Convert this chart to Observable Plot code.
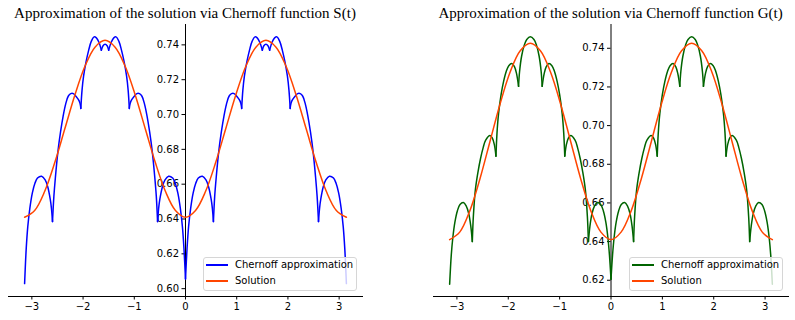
<!DOCTYPE html>
<html>
<head>
<meta charset="utf-8">
<script src="https://cdn.jsdelivr.net/npm/d3@7"></script>
<script src="https://cdn.jsdelivr.net/npm/@observablehq/plot@0.6"></script>
<style>
  body { margin: 0; background: #fff; }
  #wrap { position: relative; width: 795px; height: 320px; overflow: hidden; font-family: "DejaVu Sans", sans-serif; }
  .panel { position: absolute; top: 0; }
  .title { position: absolute; top: 6px; font-family: "Liberation Serif", "Times New Roman", serif; font-size: 15px; line-height: 15px; white-space: nowrap; transform: translateX(-50%); color: #000; z-index: 2; }
  .legend { position: absolute; top: 257px; width: 154px; height: 34px; box-sizing: border-box; border: 1px solid #d6d6d6; border-radius: 3px; background: rgba(255,255,255,0.8); z-index: 3; font-size: 10px; color: #000; }
  .legend .ln { position: absolute; left: 2px; width: 22px; height: 2px; }
  .legend .tx { position: absolute; left: 31px; line-height: 12px; white-space: nowrap; }
</style>
</head>
<body>
<div id="wrap"></div>
<script>
// ---- data ----
const xTicks = [-3, -2, -1, 0, 1, 2, 3];
const yTicksS = [0.60, 0.62, 0.64, 0.66, 0.68, 0.70, 0.72, 0.74];
const yTicksG = [0.62, 0.64, 0.66, 0.68, 0.70, 0.72, 0.74];

const titleS = "Approximation of the solution via Chernoff function S(t)";
const titleG = "Approximation of the solution via Chernoff function G(t)";
const legendLabels = ["Chernoff approximation", "Solution"];

// Chernoff approximation, function S(t)
const sT = [-3.1416, -3.11, -3.08, -3.04, -2.99, -2.94, -2.89, -2.81, -2.74, -2.69, -2.642, -2.617, -2.597,
  -2.57, -2.54, -2.49, -2.44, -2.39, -2.34, -2.29, -2.24, -2.19, -2.14, -2.09, -2.06, -2.044,
  -2.02, -1.99, -1.94, -1.89, -1.84, -1.785, -1.74, -1.69, -1.643,
  -1.61, -1.571, -1.53, -1.50,
  -1.45, -1.40, -1.357, -1.30, -1.25, -1.20, -1.15, -1.12, -1.097,
  -1.08, -1.05, -1.00, -0.95, -0.90, -0.85, -0.80, -0.75, -0.70, -0.65, -0.60, -0.57, -0.545,
  -0.525, -0.50, -0.45, -0.40, -0.33, -0.25, -0.20, -0.15, -0.10, -0.06, -0.03, 0,
  0.03, 0.06, 0.10, 0.15, 0.20, 0.25, 0.33, 0.40, 0.45, 0.50, 0.525, 0.545,
  0.57, 0.60, 0.65, 0.70, 0.75, 0.80, 0.85, 0.90, 0.95, 1.00, 1.05, 1.08, 1.097,
  1.12, 1.15, 1.20, 1.25, 1.30, 1.357, 1.40, 1.45, 1.50,
  1.53, 1.571, 1.61, 1.643,
  1.69, 1.74, 1.785, 1.84, 1.89, 1.94, 1.99, 2.02, 2.044,
  2.06, 2.09, 2.14, 2.19, 2.24, 2.29, 2.34, 2.39, 2.44, 2.49, 2.54, 2.57, 2.597,
  2.617, 2.642, 2.69, 2.74, 2.81, 2.89, 2.94, 2.99, 3.04, 3.08, 3.11, 3.1416];
const sV = [0.6029, 0.6230, 0.6355, 0.6460, 0.6550, 0.6605, 0.6635, 0.6646, 0.6625, 0.6585, 0.6515, 0.6460, 0.6385,
  0.6530, 0.6640, 0.6790, 0.6900, 0.6990, 0.7060, 0.7105, 0.7120, 0.7120, 0.7105, 0.7085, 0.7065, 0.7035,
  0.7140, 0.7220, 0.7305, 0.7370, 0.7420, 0.7446, 0.7440, 0.7415, 0.7369,
  0.7395, 0.7403, 0.7395, 0.7369,
  0.7415, 0.7440, 0.7446, 0.7420, 0.7370, 0.7305, 0.7220, 0.7140, 0.7035,
  0.7065, 0.7085, 0.7105, 0.7120, 0.7120, 0.7105, 0.7060, 0.6990, 0.6900, 0.6790, 0.6640, 0.6530, 0.6385,
  0.6460, 0.6515, 0.6585, 0.6625, 0.6646, 0.6635, 0.6605, 0.6550, 0.6460, 0.6355, 0.6230, 0.6056,
  0.6230, 0.6355, 0.6460, 0.6550, 0.6605, 0.6635, 0.6646, 0.6625, 0.6585, 0.6515, 0.6460, 0.6385,
  0.6530, 0.6640, 0.6790, 0.6900, 0.6990, 0.7060, 0.7105, 0.7120, 0.7120, 0.7105, 0.7085, 0.7065, 0.7035,
  0.7140, 0.7220, 0.7305, 0.7370, 0.7420, 0.7446, 0.7440, 0.7415, 0.7369,
  0.7395, 0.7403, 0.7395, 0.7369,
  0.7415, 0.7440, 0.7446, 0.7420, 0.7370, 0.7305, 0.7220, 0.7140, 0.7035,
  0.7065, 0.7085, 0.7105, 0.7120, 0.7120, 0.7105, 0.7060, 0.6990, 0.6900, 0.6790, 0.6640, 0.6530, 0.6385,
  0.6460, 0.6515, 0.6585, 0.6625, 0.6646, 0.6635, 0.6605, 0.6550, 0.6460, 0.6355, 0.6230, 0.6029];
const sCusps = [-2.597, -2.044, -1.643, -1.50, -1.097, -0.545, 0, 0.545, 1.097, 1.50, 1.643, 2.044, 2.597];

// Chernoff approximation, function G(t)
const gT = [-3.1416, -3.11, -3.08, -3.04, -2.99, -2.94, -2.875, -2.82, -2.77, -2.73, -2.70,
  -2.68, -2.64, -2.59, -2.54, -2.49, -2.44, -2.355, -2.31, -2.27, -2.24,
  -2.22, -2.19, -2.14, -2.09, -2.04, -1.99, -1.93, -1.88, -1.84, -1.80,
  -1.78, -1.74, -1.69, -1.64, -1.571, -1.50, -1.45, -1.40, -1.36, -1.34,
  -1.30, -1.26, -1.21, -1.15, -1.10, -1.05, -1.00, -0.95, -0.92, -0.90,
  -0.87, -0.83, -0.785, -0.70, -0.65, -0.60, -0.55, -0.50, -0.46, -0.44,
  -0.41, -0.37, -0.32, -0.265, -0.20, -0.15, -0.10, -0.06, -0.03, 0,
  0.03, 0.06, 0.10, 0.15, 0.20, 0.265, 0.32, 0.37, 0.41, 0.44,
  0.46, 0.50, 0.55, 0.60, 0.65, 0.70, 0.785, 0.83, 0.87, 0.90,
  0.92, 0.95, 1.00, 1.05, 1.10, 1.15, 1.21, 1.26, 1.30, 1.34,
  1.36, 1.40, 1.45, 1.50, 1.571, 1.64, 1.69, 1.74, 1.78, 1.80,
  1.84, 1.88, 1.93, 1.99, 2.04, 2.09, 2.14, 2.19, 2.22, 2.24,
  2.27, 2.31, 2.355, 2.44, 2.49, 2.54, 2.59, 2.64, 2.68, 2.70,
  2.73, 2.77, 2.82, 2.875, 2.94, 2.99, 3.04, 3.08, 3.11, 3.1416];
const gV = [0.6180, 0.6330, 0.6420, 0.6500, 0.6560, 0.6592, 0.6602, 0.6585, 0.6545, 0.6480, 0.6400,
  0.6530, 0.6670, 0.6760, 0.6830, 0.6885, 0.6925, 0.6949, 0.6935, 0.6900, 0.6842,
  0.6960, 0.7060, 0.7160, 0.7230, 0.7280, 0.7310, 0.7321, 0.7305, 0.7270, 0.7203,
  0.7280, 0.7360, 0.7415, 0.7445, 0.7459, 0.7445, 0.7415, 0.7360, 0.7280, 0.7203,
  0.7270, 0.7305, 0.7321, 0.7310, 0.7280, 0.7230, 0.7160, 0.7060, 0.6960, 0.6842,
  0.6900, 0.6935, 0.6949, 0.6925, 0.6885, 0.6830, 0.6760, 0.6670, 0.6530, 0.6400,
  0.6480, 0.6545, 0.6585, 0.6602, 0.6592, 0.6560, 0.6500, 0.6420, 0.6330, 0.6205,
  0.6330, 0.6420, 0.6500, 0.6560, 0.6592, 0.6602, 0.6585, 0.6545, 0.6480, 0.6400,
  0.6530, 0.6670, 0.6760, 0.6830, 0.6885, 0.6925, 0.6949, 0.6935, 0.6900, 0.6842,
  0.6960, 0.7060, 0.7160, 0.7230, 0.7280, 0.7310, 0.7321, 0.7305, 0.7270, 0.7203,
  0.7280, 0.7360, 0.7415, 0.7445, 0.7459, 0.7445, 0.7415, 0.7360, 0.7280, 0.7203,
  0.7270, 0.7305, 0.7321, 0.7310, 0.7280, 0.7230, 0.7160, 0.7060, 0.6960, 0.6842,
  0.6900, 0.6935, 0.6949, 0.6925, 0.6885, 0.6830, 0.6760, 0.6670, 0.6530, 0.6400,
  0.6480, 0.6545, 0.6585, 0.6602, 0.6592, 0.6560, 0.6500, 0.6420, 0.6330, 0.6180];
const gCusps = [-2.70, -2.24, -1.80, -1.34, -0.90, -0.44, 0, 0.44, 0.90, 1.34, 1.80, 2.24, 2.70];

// exact solution (same in both panels)
const solT = [-3.1416, -2.9452, -2.7489, -2.5525, -2.3562, -2.1598, -1.9635, -1.7671, -1.5708,
  -1.3744, -1.1781, -0.9817, -0.7854, -0.5890, -0.3927, -0.1963, 0,
  0.1963, 0.3927, 0.5890, 0.7854, 0.9817, 1.1781, 1.3744, 1.5708,
  1.7671, 1.9635, 2.1598, 2.3562, 2.5525, 2.7489, 2.9452, 3.1416];
const solV = [0.6410, 0.6449, 0.6559, 0.6724, 0.6918, 0.7112, 0.7277, 0.7387, 0.7426,
  0.7387, 0.7277, 0.7112, 0.6918, 0.6724, 0.6559, 0.6449, 0.6410,
  0.6449, 0.6559, 0.6724, 0.6918, 0.7112, 0.7277, 0.7387, 0.7426,
  0.7387, 0.7277, 0.7112, 0.6918, 0.6724, 0.6559, 0.6449, 0.6410];

const colorS = "#0000ff";
const colorG = "#006400";
const colorSol = "#ff4500";

// ---- build ----
function segments(T, V, cusps) {
  const out = [];
  let s = 0;
  T.forEach((t, i) => {
    out.push({x: t, y: V[i], s});
    if (cusps.includes(t) && i > 0 && i < T.length - 1) {
      s++;
      out.push({x: t, y: V[i], s});
    }
  });
  return out;
}

const fmtX = d => (d < 0 ? "\u2212" : "") + Math.abs(d);

function chart({T, V, cusps, color, yDomain, yTicks, width, marginLeft, marginRight}) {
  const approx = segments(T, V, cusps);
  const sol = solT.map((t, i) => ({x: t, y: solV[i]}));
  return Plot.plot({
    width, height: 320,
    marginLeft, marginRight, marginTop: 24, marginBottom: 24,
    style: {fontFamily: "DejaVu Sans", fontSize: "10px", background: "transparent", color: "#000", overflow: "visible"},
    x: {domain: [-3.456, 3.456], label: null},
    y: {domain: yDomain, label: null, axis: null},
    marks: [
      Plot.axisX({ticks: xTicks, tickSize: 3.5, tickPadding: 3, fontSize: 10, label: null, tickFormat: fmtX}),
      Plot.axisY({x: 0, anchor: "left", ticks: yTicks, tickSize: 3.5, tickPadding: 3, fontSize: 10, label: null, tickFormat: d => d.toFixed(2)}),
      Plot.frame({anchor: "bottom", stroke: "#000", strokeWidth: 1}),
      Plot.ruleX([0], {stroke: "#000", strokeWidth: 1}),
      Plot.line(approx, {x: "x", y: "y", z: "s", stroke: color, strokeWidth: 1.5, curve: "catmull-rom"}),
      Plot.line(sol, {x: "x", y: "y", stroke: colorSol, strokeWidth: 1.5, curve: "catmull-rom"})
    ]
  });
}

const wrap = document.getElementById("wrap");

function addPanel(left, svg) {
  const d = document.createElement("div");
  d.className = "panel";
  d.style.left = left + "px";
  d.appendChild(svg);
  wrap.appendChild(d);
}

addPanel(0, chart({T: sT, V: sV, cusps: sCusps, color: colorS, yDomain: [0.5955, 0.7517], yTicks: yTicksS, width: 400, marginLeft: 8, marginRight: 38}));
addPanel(400, chart({T: gT, V: gV, cusps: gCusps, color: colorG, yDomain: [0.6116, 0.7523], yTicks: yTicksG, width: 395, marginLeft: 33, marginRight: 7}));

function addTitle(text, cx) {
  const t = document.createElement("div");
  t.className = "title";
  t.style.left = cx + "px";
  t.textContent = text;
  wrap.appendChild(t);
}
addTitle(titleS, 185);
addTitle(titleG, 610.5);

function addLegend(left, color) {
  const box = document.createElement("div");
  box.className = "legend";
  box.style.left = left + "px";
  const colors = [color, colorSol];
  legendLabels.forEach((lab, i) => {
    const ln = document.createElement("div");
    ln.className = "ln";
    ln.style.top = (6 + 16 * i) + "px";
    ln.style.background = colors[i];
    box.appendChild(ln);
    const tx = document.createElement("div");
    tx.className = "tx";
    tx.style.top = (1 + 16 * i) + "px";
    tx.textContent = lab;
    box.appendChild(tx);
  });
  wrap.appendChild(box);
}
addLegend(203, colorS);
addLegend(629, colorG);
</script>
</body>
</html>
